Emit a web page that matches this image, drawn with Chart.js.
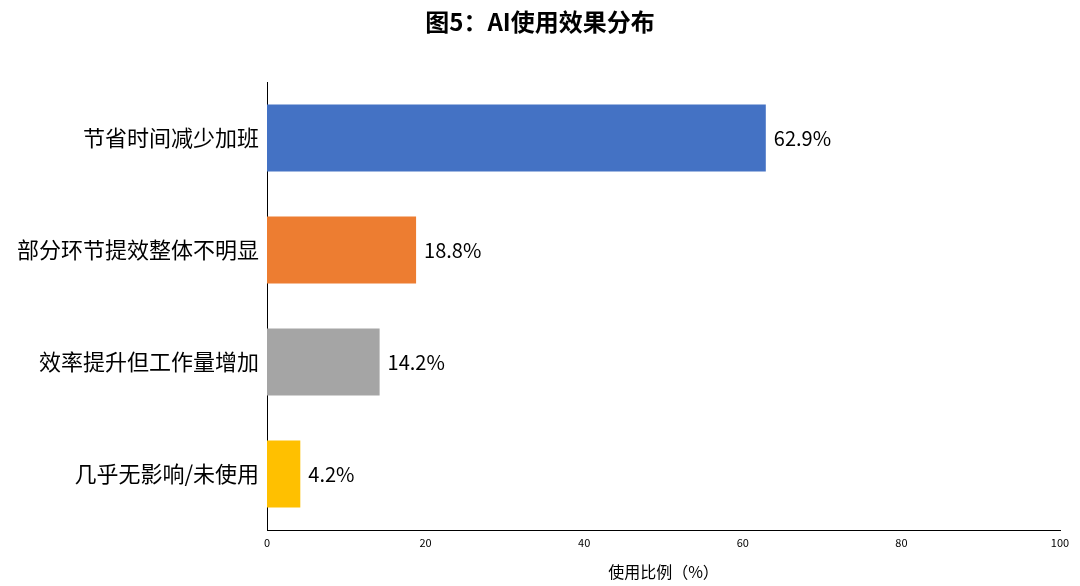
<!DOCTYPE html>
<html><head><meta charset="utf-8">
<script src="https://cdn.jsdelivr.net/npm/chart.js@4/dist/chart.umd.min.js"></script>
<style>html,body{margin:0;background:#fff}#w{width:1080px;height:586px}</style>
</head><body><div id="w"><canvas id="c"></canvas></div>
<script>
const categories = ["节省时间减少加班","部分环节提效整体不明显","效率提升但工作量增加","几乎无影响/未使用"];
const values = [62.9, 18.8, 14.2, 4.2];
const colors = ["#4472C4","#ED7D31","#A5A5A5","#FFC000"];
const xTicks = [0,20,40,60,80,100];
const FONT = "'Noto Sans CJK SC', sans-serif";
const overlay = {
  id:'overlay',
  afterDatasetsDraw(chart){
    const ctx=chart.ctx;
    ctx.save();
    ctx.fillStyle='#000';
    ctx.font='20px '+FONT;
    ctx.textBaseline='middle';
    chart.getDatasetMeta(0).data.forEach((b,i)=>{
      ctx.textAlign='left';
      ctx.fillText(values[i].toFixed(1)+'%', b.x+8, b.y);
    });
    ctx.font='bold 24px '+FONT;
    ctx.textAlign='center';
    ctx.fillText('图5：AI使用效果分布', 540, 22);
    ctx.restore();
  }
};
new Chart(document.getElementById('c'),{
  type:'bar',
  data:{labels:categories,datasets:[{data:values,backgroundColor:colors,categoryPercentage:1,barPercentage:0.6}]},
  options:{
    indexAxis:'y',responsive:true,maintainAspectRatio:false,animation:false,
    layout:{padding:{top:82,right:20,left:0,bottom:0}},
    plugins:{legend:{display:false},tooltip:{enabled:false}},
    scales:{
      x:{min:0,max:100,afterBuildTicks(s){s.ticks=xTicks.map(v=>({value:v}));},
        grid:{display:false,drawTicks:true,tickLength:4},border:{display:true,color:'#000'},
        ticks:{color:'#000',font:{size:11,family:FONT},padding:2},
        title:{display:true,text:'使用比例（%）',color:'#000',font:{size:16,family:FONT},padding:{top:4}},
        afterFit(s){s.height=56;}},
      y:{grid:{display:false,tickLength:4},border:{display:true,color:'#000'},
        ticks:{color:'#000',font:{size:22,family:FONT},padding:4},
        afterFit(s){s.width=267;}}
    }
  },
  plugins:[overlay]
});
</script></body></html>
